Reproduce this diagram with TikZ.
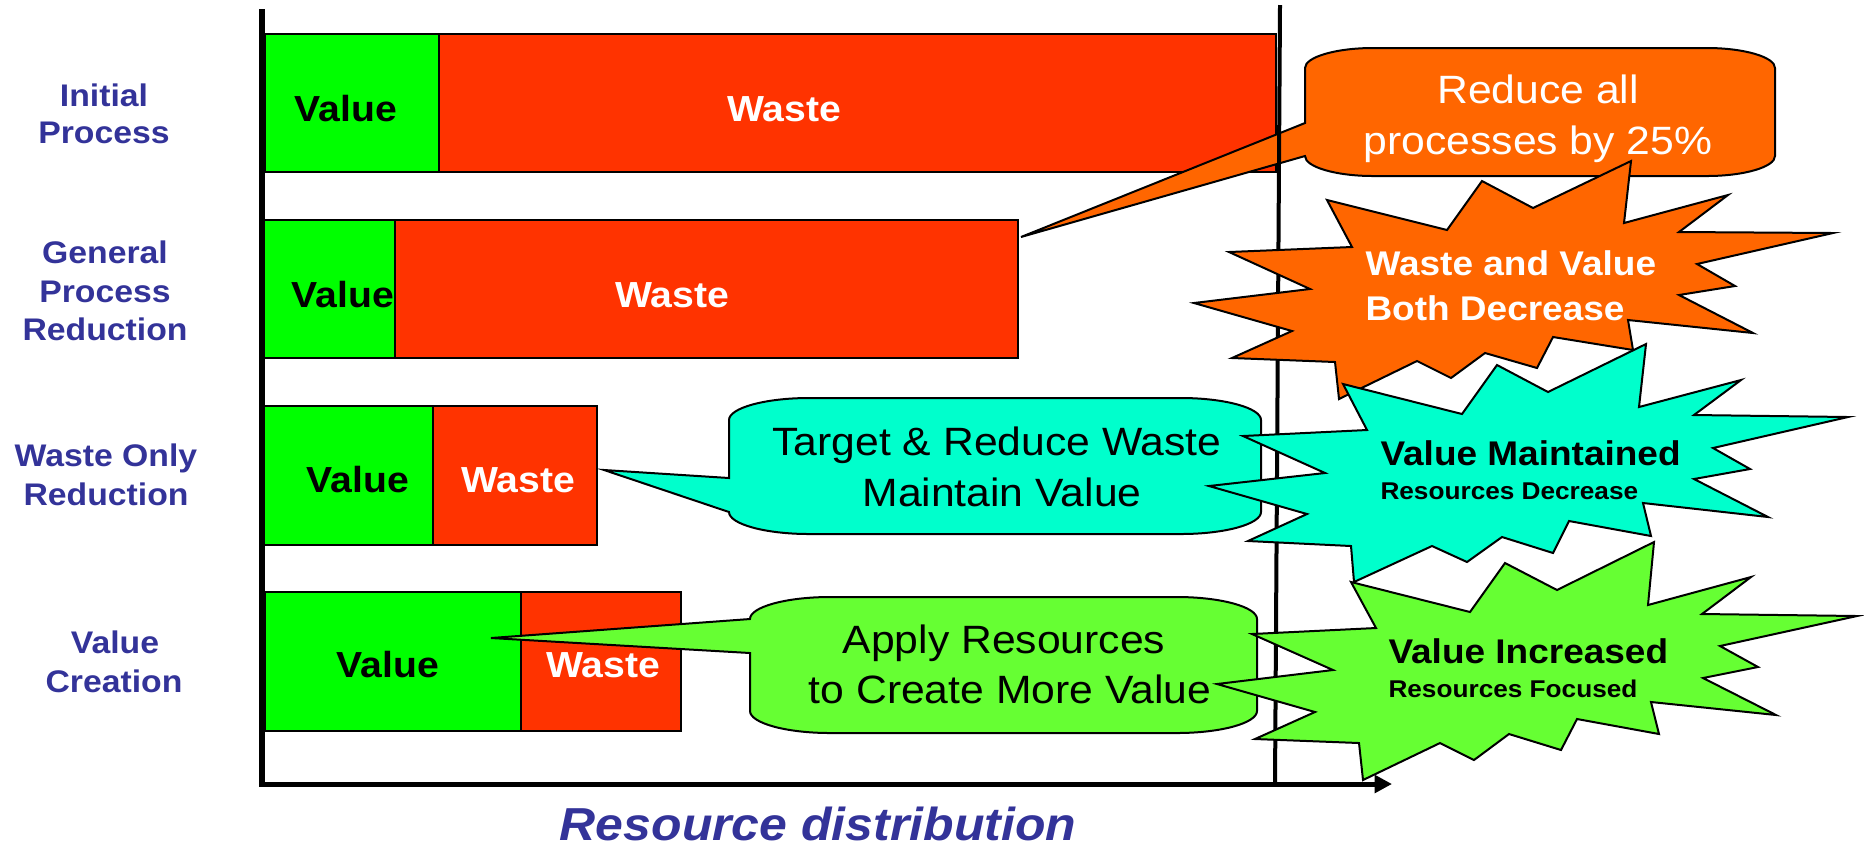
\documentclass[tikz,border=0pt]{standalone}
\usepackage{fontspec}
\setmainfont{Liberation Sans}[FakeStretch=1.08]
\usetikzlibrary{arrows.meta}
\definecolor{valgreen}{HTML}{00FF00}
\definecolor{wastered}{HTML}{FF3300}
\definecolor{orng}{HTML}{FF6600}
\definecolor{cyn}{HTML}{00FFCC}
\definecolor{lgreen}{HTML}{66FF33}
\definecolor{lblue}{HTML}{333399}
\begin{document}
\begin{tikzpicture}[x=0.4pt,y=-0.4pt,
  barval/.style={fill=valgreen,draw=black,line width=0.9pt},
  barwaste/.style={fill=wastered,draw=black,line width=0.9pt},
  bartext/.style={font=\fontsize{14.5}{17}\selectfont\bfseries,inner sep=0pt,anchor=base},
  rowlabel/.style={font=\fontsize{12.5}{15}\selectfont\bfseries,text=lblue,inner sep=0pt,anchor=base},
  calltext/.style={font=\fontsize{15.8}{19}\selectfont,inner sep=0pt,anchor=base},
  burstbig/.style={font=\fontsize{13.7}{16}\selectfont\bfseries,inner sep=0pt,anchor=base west},
  burstsmall/.style={font=\fontsize{9.7}{12}\selectfont\bfseries,inner sep=0pt,anchor=base west},
  shapeline/.style={draw=black,line width=0.8pt,line join=miter},
]
\useasboundingbox (0,0) rectangle (1864,849);

% ---------- bars ----------
\path[barval]   (265,34) rectangle (439,172);
\path[barwaste] (439,34) rectangle (1276,172);
\path[barval]   (263,220) rectangle (395,358);
\path[barwaste] (395,220) rectangle (1018,358);
\path[barval]   (264,406) rectangle (433,545);
\path[barwaste] (433,406) rectangle (597,545);
\path[barval]   (265,592) rectangle (521,731);
\path[barwaste] (521,592) rectangle (681,731);

\node[bartext] (v1) at (346,121) {Value};
\node[bartext,text=white] (w1) at (784,121) {Waste};
\node[bartext] (v2) at (343,307) {Value};
\node[bartext,text=white] (w2) at (672,307) {Waste};
\node[bartext] (v3) at (358,492) {Value};
\node[bartext,text=white] (w3) at (518,492) {Waste};
\node[bartext] (v4) at (388,677) {Value};
\node[bartext,text=white] (w4) at (603,677) {Waste};

% ---------- row labels ----------
\node[rowlabel] (l1a) at (104,106) {Initial};
\node[rowlabel] (l1b) at (104,143) {Process};
\node[rowlabel] (l2a) at (105,263) {General};
\node[rowlabel] (l2b) at (105,302) {Process};
\node[rowlabel] (l2c) at (105,340) {Reduction};
\node[rowlabel] (l3a) at (106,466) {Waste Only};
\node[rowlabel] (l3b) at (106,505) {Reduction};
\node[rowlabel] (l4a) at (115,653) {Value};
\node[rowlabel] (l4b) at (114,692) {Creation};

% ---------- axes ----------
\draw[line width=2.3pt] (262,9) -- (262,787);
\draw[line width=2pt,-{Triangle[length=7pt,width=7pt]}] (259,784) -- (1392,784);
\node[font=\fontsize{18.5}{22}\selectfont\bfseries\itshape,text=lblue,inner sep=0pt,anchor=base] (xtitle) at (818,840) {Resource distribution};

% ---------- callouts ----------
\coordinate (tipA) at (1021,237);
\coordinate (tipB) at (604,470);
\coordinate (tipC) at (491,638);

\path[fill=orng,shapeline] (1305,68) .. controls (1305,57) and (1336,48) .. (1373,48)
  -- (1707,48) .. controls (1744,48) and (1775,57) .. (1775,68)
  -- (1775,156) .. controls (1775,167) and (1744,176) .. (1707,176)
  -- (1373,176) .. controls (1336,176) and (1305,167) .. (1305,156)
  -- (tipA) -- (1305,123) -- cycle;

\path[fill=cyn,shapeline] (729,420) .. controls (729,408) and (765,398) .. (809,398)
  -- (1181,398) .. controls (1225,398) and (1261,408) .. (1261,420)
  -- (1261,512) .. controls (1261,524) and (1225,534) .. (1181,534)
  -- (809,534) .. controls (765,534) and (729,524) .. (729,512)
  -- (tipB) -- (729,478) -- cycle;

\path[fill=lgreen,shapeline] (750,619) .. controls (750,607) and (786,597) .. (830,597)
  -- (1177,597) .. controls (1221,597) and (1257,607) .. (1257,619)
  -- (1257,711) .. controls (1257,723) and (1221,733) .. (1177,733)
  -- (830,733) .. controls (786,733) and (750,723) .. (750,711)
  -- (750,653) -- (tipC) -- cycle;

\node[calltext,text=white] (c1a) at (1538,103) {Reduce all};
\node[calltext,text=white] (c1b) at (1538,154) {processes by 25\%};
\node[calltext] (c2a) at (997,455) {Target \& Reduce Waste};
\node[calltext] (c2b) at (1002,506) {Maintain Value};
\node[calltext] (c3a) at (1004,653) {Apply Resources};
\node[calltext] (c3b) at (1010,703) {to Create More Value};

% ---------- right limit line ----------
\draw[line width=1.6pt] (1280,5) -- (1275,784);

% ---------- starbursts ----------
\path[fill=orng,shapeline] (1327,200) -- (1447,230) -- (1482,181) -- (1533,208) -- (1631,161)
  -- (1624,223) -- (1728,195) -- (1679,232) -- (1833,233) -- (1697,264) -- (1735,286)
  -- (1679,295) -- (1753,333) -- (1628,320) -- (1633,350) -- (1553,337) -- (1537,368)
  -- (1485,353) -- (1451,378) -- (1417,361) -- (1339,399) -- (1335,362) -- (1232,358)
  -- (1292,331) -- (1194,303) -- (1310,289) -- (1229,252) -- (1352,247) -- cycle;

\path[fill=cyn,shapeline] (1343,384) -- (1462,414) -- (1497,365) -- (1548,392) -- (1646,344)
  -- (1639,407) -- (1741,380) -- (1694,415) -- (1848,417) -- (1713,448) -- (1750,469)
  -- (1694,479) -- (1768,517) -- (1643,503) -- (1651,536) -- (1569,521) -- (1553,553)
  -- (1502,537) -- (1467,562) -- (1432,546) -- (1354,582) -- (1351,546) -- (1248,541)
  -- (1307,514) -- (1209,486) -- (1325,473) -- (1243,436) -- (1367,430) -- cycle;

\path[fill=lgreen,shapeline] (1351,582) -- (1470,612) -- (1505,563) -- (1557,590) -- (1654,542)
  -- (1648,605) -- (1751,577) -- (1702,614) -- (1857,616) -- (1720,646) -- (1758,667)
  -- (1703,678) -- (1776,715) -- (1651,702) -- (1659,734) -- (1577,719) -- (1561,750)
  -- (1509,734) -- (1474,760) -- (1440,743) -- (1363,780) -- (1359,743) -- (1255,739)
  -- (1315,712) -- (1217,684) -- (1333,670) -- (1252,634) -- (1376,628) -- cycle;

\node[burstbig,text=white] (s1a) at (1365,275) {Waste and Value};
\node[burstbig,text=white] (s1b) at (1365,320) {Both Decrease};
\node[burstbig] (s2a) at (1380,465) {Value Maintained};
\node[burstsmall] (s2b) at (1380,499) {Resources Decrease};
\node[burstbig] (s3a) at (1388,663) {Value Increased};
\node[burstsmall] (s3b) at (1388,697) {Resources Focused};
\end{tikzpicture}
\end{document}
